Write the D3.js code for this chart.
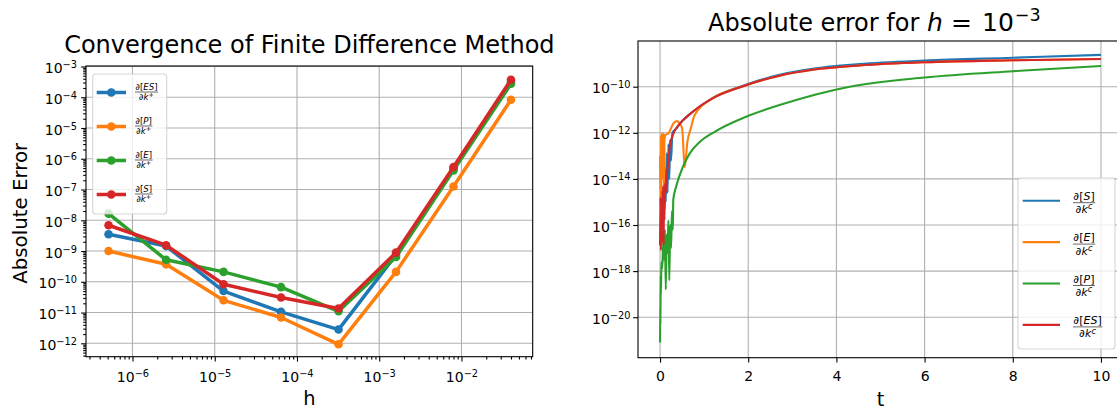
<!DOCTYPE html>
<html><head><meta charset="utf-8">
<script src="https://cdn.jsdelivr.net/npm/d3@7"></script>
<style>
body{margin:0;background:#fff}
svg{display:block}
text{font-family:"DejaVu Sans",sans-serif;fill:#000}
</style>
</head><body>
<svg id="c" width="1117" height="411"></svg>
<script>
// ---------- Left panel data (convergence) ----------
const hValues = [5.12e-7, 2.56e-6, 1.28e-5, 6.4e-5, 3.2e-4, 1.6e-3, 8e-3, 4e-2];
const convES = [3.5e-9, 1.45e-9, 5.0e-11, 1.05e-11, 2.8e-12, 7.5e-10, 4.8e-7, 3.2e-4];
const convP  = [1.0e-9, 3.7e-10, 2.5e-11, 6.9e-12, 9.3e-13, 2.1e-10, 1.26e-7, 8.3e-5];
const convE  = [1.65e-8, 5.2e-10, 2.1e-10, 6.7e-11, 1.1e-11, 6.4e-10, 4.2e-7, 2.75e-4];
const convS  = [6.9e-9, 1.55e-9, 8.3e-11, 3.1e-11, 1.35e-11, 8.9e-10, 5.4e-7, 3.7e-4];
const leftLegend = [["ES","+"],["P","+"],["E","+"],["S","+"]];
const leftTitle = "Convergence of Finite Difference Method";
const leftYExp = [-12,-11,-10,-9,-8,-7,-6,-5,-4,-3];
const leftXExp = [-6,-5,-4,-3,-2];

// ---------- Right panel data (absolute error vs t, h = 1e-3) ----------
const tS = [0.10,0.11,0.13,0.15,0.17,0.19,0.21,0.23,0.25,0.28,0.35,0.5,0.7,1.2,1.85,2.71,3.46,4.52,6,8,10];
const eS = [5.0e-16,2.5e-14,1.0e-15,1.3e-13,2.5e-15,3.2e-13,1.0e-14,5.0e-13,6.3e-14,1.0e-12,1.4e-12,3.2e-12,7.1e-12,3.3e-11,1.05e-10,3.3e-10,6.0e-10,9.5e-10,1.35e-9,1.8e-9,2.4e-9];
const tE = [0.00,0.01,0.02,0.03,0.04,0.05,0.06,0.07,0.08,0.09,0.10,0.12,0.2,0.3,0.38,0.45,0.5,0.56,0.62,0.7,0.78,1.2,1.85,2.71,3.46,4.52,6,8,10];
const eE = [1.0e-13,6.3e-16,7.9e-13,3.2e-15,1.0e-12,1.0e-14,6.3e-13,2.5e-14,1.0e-12,1.6e-15,5.0e-13,7.9e-13,1.0e-12,2.5e-12,3.2e-12,2.5e-12,1.6e-12,3.2e-14,4.0e-13,1.6e-12,5.6e-12,3.2e-11,1.0e-10,3.0e-10,5.4e-10,8.3e-10,1.15e-9,1.4e-9,1.6e-9];
const tP = [0.00,0.005,0.01,0.015,0.02,0.03,0.05,0.07,0.09,0.11,0.13,0.15,0.17,0.19,0.21,0.23,0.25,0.27,0.29,0.30,0.37,0.52,0.67,0.9,1.2,1.95,2.71,4.3,6,8,10];
const eP = [7.9e-22,2.5e-20,5.0e-21,6.3e-19,1.0e-19,2.5e-18,1.3e-18,1.6e-17,3.2e-18,6.3e-17,1.6e-19,4.0e-17,6.3e-18,1.6e-16,4.0e-19,1.0e-16,1.0e-17,4.0e-16,6.3e-17,1.25e-15,5.0e-15,3.4e-14,1.25e-13,4.0e-13,1.0e-12,5.0e-12,1.6e-11,1.0e-10,2.5e-10,4.7e-10,7.9e-10];
const tES = [0.00,0.01,0.02,0.03,0.04,0.05,0.06,0.07,0.08,0.09,0.10,0.11,0.13,0.15,0.18,0.22,0.3,0.45,0.67,1.2,1.85,2.71,3.46,4.52,6,8,10];
const eES = [1.3e-17,1.6e-15,7.9e-18,6.3e-16,1.6e-17,3.2e-15,3.2e-17,5.0e-15,1.3e-17,2.5e-15,1.6e-16,6.3e-15,2.5e-15,1.3e-14,4.0e-14,2.5e-13,8.9e-13,2.5e-12,6.3e-12,3.2e-11,1.0e-10,3.0e-10,5.4e-10,8.3e-10,1.15e-9,1.4e-9,1.6e-9];
const rightLegend = ["S","E","P","ES"];
const rightXTicks = [0,2,4,6,8,10];
const rightYExp = [-20,-18,-16,-14,-12,-10];

// ---------- Drawing ----------
const svg = d3.select("#c");
const COL = {blue:"#1f77b4", orange:"#ff7f0e", green:"#2ca02c", red:"#d62728"};
const GRID = "#b0b0b0";
const P1 = {x0:86, x1:532.7, y0:66, y1:356.7};
const P2 = {x0:638, x1:1123, y0:41, y1:357.7};

function sci(sel, exp, fs) {
  sel.text(null);
  sel.append("tspan").text("10");
  sel.append("tspan").attr("font-size", fs*0.7).attr("dy", -5).text("\u2212" + Math.abs(exp));
}

// ===== Left panel =====
const x1 = d3.scaleLog().domain([10**-6.565, 10**-1.134]).range([P1.x0, P1.x1]);
const y1 = d3.scaleLog().domain([10**-12.435, 10**-2.984]).range([P1.y1, P1.y0]);
const L = svg.append("g");
L.append("g").selectAll("line").data(leftXExp).join("line")
  .attr("x1", d => x1(10**d)).attr("x2", d => x1(10**d)).attr("y1", P1.y0).attr("y2", P1.y1)
  .attr("stroke", GRID).attr("stroke-width", 1.1);
L.append("g").selectAll("line").data(leftYExp).join("line")
  .attr("y1", d => y1(10**d)).attr("y2", d => y1(10**d)).attr("x1", P1.x0).attr("x2", P1.x1)
  .attr("stroke", GRID).attr("stroke-width", 1.1);

function minorTicks(scale) {
  const [a, b] = scale.domain();
  const out = [];
  for (let e = Math.floor(Math.log10(a)); e <= Math.ceil(Math.log10(b)); e++)
    for (let k = 2; k <= 9; k++) { const v = k * 10**e; if (v >= a && v <= b) out.push(v); }
  return out;
}
function styleAxis(g) { g.select(".domain").remove(); g.selectAll("line").attr("stroke", "#000").attr("stroke-width", 1.1); g.attr("font-family", null).attr("font-size", null); }

const xAxL = L.append("g").attr("transform", `translate(0,${P1.y1})`)
  .call(d3.axisBottom(x1).tickValues(leftXExp.map(e => 10**e)).tickSize(4.9).tickSizeOuter(0).tickFormat(() => ""));
styleAxis(xAxL);
xAxL.selectAll("text").attr("y", 25.3).attr("dy", 0).attr("font-size", 14).each(function(d){ d3.select(this).call(sci, Math.round(Math.log10(d)), 14); });
const xAxLm = L.append("g").attr("transform", `translate(0,${P1.y1})`)
  .call(d3.axisBottom(x1).tickValues(minorTicks(x1)).tickSize(2.8).tickSizeOuter(0).tickFormat(() => ""));
styleAxis(xAxLm);
const yAxL = L.append("g").attr("transform", `translate(${P1.x0},0)`)
  .call(d3.axisLeft(y1).tickValues(leftYExp.map(e => 10**e)).tickSize(4.9).tickSizeOuter(0).tickFormat(() => ""));
styleAxis(yAxL);
yAxL.selectAll("text").attr("x", -9).attr("dy", 0).attr("y", 6).attr("font-size", 14).attr("text-anchor", "end").each(function(d){ d3.select(this).call(sci, Math.round(Math.log10(d)), 14); });
const yAxLm = L.append("g").attr("transform", `translate(${P1.x0},0)`)
  .call(d3.axisLeft(y1).tickValues(minorTicks(y1)).tickSize(2.8).tickSizeOuter(0).tickFormat(() => ""));
styleAxis(yAxLm);

const leftSeries = [
  {vals: convES, c: COL.blue}, {vals: convP, c: COL.orange},
  {vals: convE, c: COL.green}, {vals: convS, c: COL.red}];
const lineL = d3.line().x(d => x1(d[0])).y(d => y1(d[1]));
leftSeries.forEach(s => {
  const pts = hValues.map((h, i) => [h, s.vals[i]]);
  L.append("path").attr("d", lineL(pts)).attr("fill", "none").attr("stroke", s.c).attr("stroke-width", 3.5).attr("stroke-linejoin", "round");
  L.append("g").selectAll("circle").data(pts).join("circle")
    .attr("cx", d => x1(d[0])).attr("cy", d => y1(d[1])).attr("r", 4.3).attr("fill", s.c);
});
L.append("rect").attr("x", P1.x0).attr("y", P1.y0).attr("width", P1.x1 - P1.x0).attr("height", P1.y1 - P1.y0)
  .attr("fill", "none").attr("stroke", "#000").attr("stroke-width", 1.1);

function fraction(g, x0, yb, name, sup, fs) {
  const num = g.append("text").attr("font-size", fs).attr("text-anchor", "middle");
  num.append("tspan").text("\u2202[");
  num.append("tspan").attr("font-style", "italic").text(name);
  num.append("tspan").text("]");
  const den = g.append("text").attr("font-size", fs).attr("text-anchor", "middle");
  den.append("tspan").text("\u2202");
  den.append("tspan").attr("font-style", "italic").text("k");
  den.append("tspan").attr("font-size", fs*0.75).attr("dy", -fs*0.35).attr("font-style", "italic").text(sup);
  const w = Math.max(num.node().getComputedTextLength(), den.node().getComputedTextLength()) + 1;
  num.attr("x", x0 + w/2).attr("y", yb - fs*0.25);
  den.attr("x", x0 + w/2).attr("y", yb + fs*0.95);
  g.append("line").attr("x1", x0).attr("x2", x0 + w).attr("y1", yb).attr("y2", yb).attr("stroke", "#000").attr("stroke-width", 0.6);
}

const LG = L.append("g");
LG.append("rect").attr("x", 92.7).attr("y", 74).attr("width", 74).attr("height", 140).attr("rx", 3)
  .attr("fill", "#fff").attr("fill-opacity", 0.8).attr("stroke", "#ccc").attr("stroke-opacity", 0.8).attr("stroke-width", 1.1);
leftSeries.forEach((s, i) => {
  const yy = 92.5 + i * 34;
  LG.append("line").attr("x1", 96.7).attr("x2", 126).attr("y1", yy).attr("y2", yy).attr("stroke", s.c).attr("stroke-width", 3.5);
  LG.append("circle").attr("cx", 111.3).attr("cy", yy).attr("r", 4.3).attr("fill", s.c);
  fraction(LG, 135, yy - 0.5, leftLegend[i][0], leftLegend[i][1], 8.6);
});

L.append("text").attr("x", (P1.x0 + P1.x1) / 2).attr("y", 52.5).attr("text-anchor", "middle").attr("font-size", 24).text(leftTitle);
L.append("text").attr("x", (P1.x0 + P1.x1) / 2).attr("y", 405).attr("text-anchor", "middle").attr("font-size", 19.4).text("h");
L.append("text").attr("transform", `translate(27,${(P1.y0 + P1.y1) / 2 + 2}) rotate(-90)`).attr("text-anchor", "middle").attr("font-size", 19.8).text("Absolute Error");

// ===== Right panel =====
const x2 = d3.scaleLinear().domain([-0.5, 10.5]).range([P2.x0, P2.x1]);
const y2 = d3.scaleLog().domain([10**-21.757, 10**-8.017]).range([P2.y1, P2.y0]);
const R = svg.append("g");
R.append("g").selectAll("line").data(rightXTicks).join("line")
  .attr("x1", d => x2(d)).attr("x2", d => x2(d)).attr("y1", P2.y0).attr("y2", P2.y1)
  .attr("stroke", GRID).attr("stroke-width", 1.1);
R.append("g").selectAll("line").data(rightYExp).join("line")
  .attr("y1", d => y2(10**d)).attr("y2", d => y2(10**d)).attr("x1", P2.x0).attr("x2", P2.x1)
  .attr("stroke", GRID).attr("stroke-width", 1.1);

const xAxR = R.append("g").attr("transform", `translate(0,${P2.y1})`)
  .call(d3.axisBottom(x2).tickValues(rightXTicks).tickSize(4.9).tickSizeOuter(0).tickFormat(d3.format("d")));
styleAxis(xAxR);
xAxR.selectAll("text").attr("y", 23.5).attr("dy", 0).attr("font-size", 14);
const yAxR = R.append("g").attr("transform", `translate(${P2.x0},0)`)
  .call(d3.axisLeft(y2).tickValues(rightYExp.map(e => 10**e)).tickSize(4.9).tickSizeOuter(0).tickFormat(() => ""));
styleAxis(yAxR);
yAxR.selectAll("text").attr("x", -7.5).attr("dy", 0).attr("y", 6).attr("font-size", 14).attr("text-anchor", "end").each(function(d){ d3.select(this).call(sci, Math.round(Math.log10(d)), 14); });

const rightSeries = [
  {t: tS, v: eS, c: COL.blue}, {t: tE, v: eE, c: COL.orange},
  {t: tP, v: eP, c: COL.green}, {t: tES, v: eES, c: COL.red}];
const lineR = d3.line().x(d => x2(d[0])).y(d => y2(d[1])).curve(d3.curveMonotoneX);
rightSeries.forEach(s => {
  const pts = s.t.map((t, i) => [t, s.v[i]]);
  R.append("path").attr("d", lineR(pts)).attr("fill", "none").attr("stroke", s.c).attr("stroke-width", 2.1).attr("stroke-linejoin", "round");
});
R.append("rect").attr("x", P2.x0).attr("y", P2.y0).attr("width", P2.x1 - P2.x0).attr("height", P2.y1 - P2.y0)
  .attr("fill", "none").attr("stroke", "#000").attr("stroke-width", 1.1);

const RG = R.append("g");
RG.append("rect").attr("x", 1018).attr("y", 178).attr("width", 97).attr("height", 171).attr("rx", 3)
  .attr("fill", "#fff").attr("fill-opacity", 0.8).attr("stroke", "#ccc").attr("stroke-opacity", 0.8).attr("stroke-width", 1.1);
const legCols = [COL.blue, COL.orange, COL.green, COL.red];
rightLegend.forEach((n, i) => {
  const yy = 200.7 + i * 41.4;
  RG.append("line").attr("x1", 1022.7).attr("x2", 1060).attr("y1", yy).attr("y2", yy).attr("stroke", legCols[i]).attr("stroke-width", 2.1);
  fraction(RG, 1073, yy + 2, n, "c", 11);
});

// right title: "Absolute error for h = 10^-3"
const rt = R.append("text").attr("x", 708).attr("y", 31).attr("text-anchor", "start").attr("font-size", 24);
rt.append("tspan").text("Absolute error for");
rt.append("tspan").attr("x", 927).attr("font-style", "italic").attr("font-size", 25).text("h");
rt.append("tspan").attr("x", 951).attr("font-size", 25).text("=");
rt.append("tspan").attr("x", 982).attr("font-size", 25).text("10");
rt.append("tspan").attr("font-size", 17.5).attr("dx", 1).attr("dy", -10).text("\u22123");
R.append("text").attr("x", (P2.x0 + P2.x1) / 2).attr("y", 406).attr("text-anchor", "middle").attr("font-size", 19.4).text("t");
</script>
</body></html>
